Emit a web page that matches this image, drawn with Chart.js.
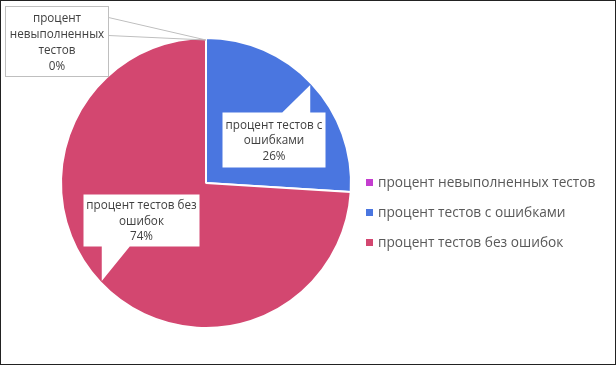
<!DOCTYPE html>
<html>
<head>
<meta charset="utf-8">
<script src="https://cdn.jsdelivr.net/npm/chart.js@4"></script>
<style>
  html, body { margin: 0; padding: 0; background: #fff; }
  #wrap { width: 616px; height: 365px; position: relative; }
</style>
</head>
<body>
<div id="wrap"><canvas id="pie"></canvas></div>
<script>
const categories = ['процент невыполненных тестов', 'процент тестов с ошибками', 'процент тестов без ошибок'];
const shortLabels = [['процент', 'невыполненных', 'тестов'], ['процент тестов с', 'ошибками'], ['процент тестов без', 'ошибок']];
const values = [0, 26, 74];
const colors = ['#c43dcf', '#4a76e0', '#d34770'];

// callout box placement relative to the arc tip (label styling only)
const callouts = [
  { dx: -201, dy: -34, w: 103, h: 70, kind: 'leader' },
  { dx: -88, dy: 27, w: 103, h: 55, kind: 'up' },
  { dx: -19, dy: -87, w: 116, h: 52, kind: 'down' }
];

const FONT = '"Open Sans", sans-serif';

const calloutPlugin = {
  id: 'callouts',
  afterDatasetsDraw(chart) {
    const ctx = chart.ctx;
    const meta = chart.getDatasetMeta(0);
    ctx.save();
    meta.data.forEach((arc, i) => {
      const p = arc.getProps(['x', 'y', 'startAngle', 'endAngle', 'outerRadius'], true);
      const mid = (p.startAngle + p.endAngle) / 2;
      const tx = p.x + Math.cos(mid) * (p.outerRadius - 2);
      const ty = p.y + Math.sin(mid) * (p.outerRadius - 2);
      const c = callouts[i];
      const bx = Math.round(tx + c.dx) + 0.5, by = Math.round(ty + c.dy) + 0.5;
      ctx.beginPath();
      if (c.kind === 'up') {
        ctx.moveTo(bx, by);
        ctx.lineTo(tx - 28, by);
        ctx.lineTo(tx, ty);
        ctx.lineTo(tx, by);
        ctx.lineTo(bx + c.w, by);
        ctx.lineTo(bx + c.w, by + c.h);
        ctx.lineTo(bx, by + c.h);
        ctx.closePath();
        ctx.fillStyle = '#fff';
        ctx.fill();
      } else if (c.kind === 'down') {
        ctx.moveTo(bx, by);
        ctx.lineTo(bx + c.w, by);
        ctx.lineTo(bx + c.w, by + c.h);
        ctx.lineTo(tx + 28, by + c.h);
        ctx.lineTo(tx, ty);
        ctx.lineTo(tx, by + c.h);
        ctx.lineTo(bx, by + c.h);
        ctx.closePath();
        ctx.fillStyle = '#fff';
        ctx.fill();
      } else {
        ctx.strokeStyle = '#bfbfbf';
        ctx.lineWidth = 1;
        ctx.fillStyle = '#fff';
        ctx.fillRect(bx, by, c.w, c.h);
        ctx.strokeRect(bx, by, c.w, c.h);
        ctx.beginPath();
        ctx.moveTo(bx + c.w, by + 11);
        ctx.lineTo(tx, ty);
        ctx.lineTo(bx + c.w, by + 29);
        ctx.stroke();
      }
      const lines = shortLabels[i].concat([values[i] + '%']);
      ctx.fillStyle = '#404040';
      ctx.font = '11.7px ' + FONT;
      ctx.textAlign = 'center';
      ctx.textBaseline = 'middle';
      const lh = lines.length > 3 ? 16 : 15.5;
      const top = by + c.h / 2 + 1 - (lines.length - 1) * lh / 2;
      lines.forEach((t, k) => ctx.fillText(t, bx + c.w / 2, top + k * lh));
    });
    ctx.restore();
  },
  afterDraw(chart) {
    const ctx = chart.ctx;
    ctx.save();
    // legend
    ctx.font = '13.7px ' + FONT;
    ctx.textBaseline = 'middle';
    ctx.textAlign = 'left';
    categories.forEach((name, i) => {
      const y = 183 + i * 30;
      ctx.fillStyle = colors[i];
      ctx.fillRect(366, y - 4, 7, 7);
      ctx.fillStyle = '#595959';
      ctx.fillText(name, 378, y);
    });
    // outer frame
    ctx.strokeStyle = '#222';
    ctx.lineWidth = 1;
    ctx.strokeRect(0.5, 0.5, chart.width - 1, chart.height - 1);
    ctx.restore();
  }
};

new Chart(document.getElementById('pie'), {
  type: 'pie',
  data: {
    labels: categories,
    datasets: [{
      data: values,
      backgroundColor: colors,
      borderColor: '#fff',
      borderWidth: 2,
      hoverOffset: 0
    }]
  },
  options: {
    responsive: true,
    maintainAspectRatio: false,
    animation: false,
    layout: { padding: { left: 60, right: 264, top: 37, bottom: 36 } },
    plugins: {
      legend: { display: false },
      tooltip: { enabled: false }
    }
  },
  plugins: [calloutPlugin]
});
</script>
</body>
</html>
